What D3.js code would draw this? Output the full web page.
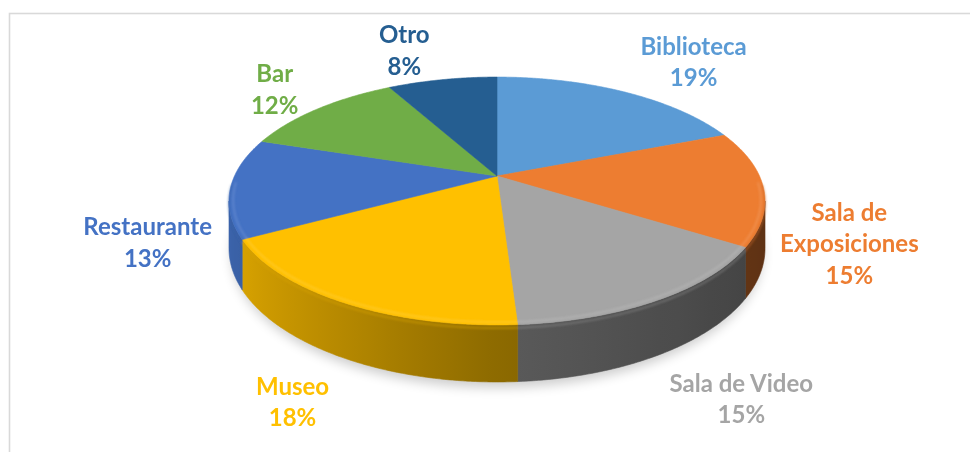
<!DOCTYPE html>
<html>
<head>
<meta charset="utf-8">
<script src="https://cdn.jsdelivr.net/npm/d3@7"></script>
<style>
  html, body { margin: 0; padding: 0; background: #fff; }
  svg { display: block; }
</style>
</head>
<body>
<svg id="chart" width="970" height="452"></svg>
<script>
// ---- data ----
const categories = ["Biblioteca", "Sala de Exposiciones", "Sala de Video", "Museo", "Restaurante", "Bar", "Otro"];
const shares = [19, 15, 15, 18, 13, 12, 8];
const colors = ["#5B9BD5", "#ED7D31", "#A5A5A5", "#FFC000", "#4472C4", "#70AD47", "#255E91"];
// how each category name wraps inside its label
const labelLines = [["Biblioteca"], ["Sala de", "Exposiciones"], ["Sala de Video"], ["Museo"], ["Restaurante"], ["Bar"], ["Otro"]];

// ---- layout ----
const cx = 497, cy = 176;          // pie centre on screen
const R = 262.5;                    // pie radius
const tilt = Math.asin(0.453);      // viewing tilt
const focal = 1160;                 // perspective distance
const thick = 45.5;                 // pie thickness
const labelRadius = 1.3;            // label distance, as a share of R
const fontSize = 24, lineGap = 31.5;
// small hand adjustments of each label block (dx, dy), keyed by category
const labelNudge = {
  "Biblioteca": [39, -9], "Sala de Exposiciones": [4, 6], "Sala de Video": [20, -8],
  "Museo": [9, -9], "Restaurante": [-1, 5], "Bar": [3, -2], "Otro": [-25, -6]
};

const svg = d3.select("#chart");
const defs = svg.append("defs");

// perspective projection of a point at angle theta (clockwise from 12 o'clock),
// radius r, and depth h below the top face
function proj(theta, r, h) {
  const X = r * Math.sin(theta), Y = r * Math.cos(theta);
  const s = focal / (focal + Y * Math.cos(tilt));
  return [cx + X * s, cy + (-Y * Math.sin(tilt) + h) * s];
}
function arcPts(a0, a1, r, h) {
  const n = Math.max(2, Math.ceil(Math.abs(a1 - a0) / 0.008));
  return d3.range(n + 1).map(i => proj(a0 + (a1 - a0) * i / n, r, h));
}
const closed = d3.line().curve(d3.curveLinearClosed);
const open = d3.line();

const slices = d3.pie().sort(null).value(d => d)(shares);

// chart area frame
svg.append("rect")
  .attr("x", 9.5).attr("y", 13.5).attr("width", 1000).attr("height", 500)
  .attr("fill", "none").attr("stroke", "#d9d9d9").attr("stroke-width", 1.6);

// filters
const blurShadow = defs.append("filter").attr("id", "shadowBlur")
  .attr("x", "-20%").attr("y", "-20%").attr("width", "140%").attr("height", "140%");
blurShadow.append("feGaussianBlur").attr("stdDeviation", 6);
const blurRim = defs.append("filter").attr("id", "rimBlur")
  .attr("x", "-10%").attr("y", "-10%").attr("width", "120%").attr("height", "120%");
blurRim.append("feGaussianBlur").attr("stdDeviation", 1.3);

// soft shadow under the pie
svg.append("path")
  .attr("d", closed(arcPts(0, 2 * Math.PI, R * 0.99, thick + 6)))
  .attr("fill", "#000").attr("opacity", 0.2)
  .attr("filter", "url(#shadowBlur)");

// side walls (only the part facing the viewer), lit from the left
const k = R * Math.cos(tilt) / focal;
const sil0 = Math.acos(-k), sil1 = 2 * Math.PI - sil0;
function shade(theta) {
  const s = Math.sin(theta);
  return 0.55 - (s > 0 ? 0.16 : 0.33) * s;
}
function darker(c, f) {
  const r = d3.rgb(c);
  return d3.rgb(r.r * f, r.g * f, r.b * f).formatHex();
}

const sideG = svg.append("g");
slices.forEach((sl, i) => {
  const a = Math.max(sl.startAngle, sil0), b = Math.min(sl.endAngle, sil1);
  if (a >= b) return;
  const top = arcPts(a, b, R, 0);
  const bot = arcPts(b, a, R, thick);
  const xs = top.map(p => p[0]);
  const x0 = d3.min(xs), x1 = d3.max(xs);
  const gid = "side" + i;
  const grad = defs.append("linearGradient").attr("id", gid)
    .attr("gradientUnits", "userSpaceOnUse")
    .attr("x1", x0).attr("y1", 0).attr("x2", x1).attr("y2", 0);
  const stops = d3.range(13).map(j => {
    const t = a + (b - a) * j / 12;
    const px = proj(t, R, 0)[0];
    return { off: x1 > x0 ? (px - x0) / (x1 - x0) : 0, col: darker(colors[i], shade(t)) };
  }).sort((p, q) => p.off - q.off);
  stops.forEach(s => grad.append("stop").attr("offset", s.off).attr("stop-color", s.col));
  sideG.append("path")
    .attr("d", closed(top.concat(bot)))
    .attr("fill", `url(#${gid})`)
    .attr("stroke", `url(#${gid})`).attr("stroke-width", 0.6);
});

// top faces
const topG = svg.append("g");
slices.forEach((sl, i) => {
  const pts = [proj(0, 0, 0)].concat(arcPts(sl.startAngle, sl.endAngle, R, 0));
  topG.append("path")
    .attr("d", closed(pts))
    .attr("fill", colors[i])
    .attr("stroke", colors[i]).attr("stroke-width", 0.6);
});

// bevel highlight along the front rim
const rimG = svg.append("g").attr("filter", "url(#rimBlur)");
slices.forEach((sl, i) => {
  const a = Math.max(sl.startAngle, sil0 - 0.15), b = Math.min(sl.endAngle, sil1 + 0.15);
  if (a >= b) return;
  rimG.append("path")
    .attr("d", open(arcPts(a, b, R * 0.985, 0)))
    .attr("fill", "none")
    .attr("stroke", d3.interpolateRgb(colors[i], "#fff")(0.2))
    .attr("stroke-width", 2.2).attr("opacity", 0.6);
  rimG.append("path")
    .attr("d", open(arcPts(a, b, R, 2.5)))
    .attr("fill", "none")
    .attr("stroke", darker(colors[i], 0.85))
    .attr("stroke-width", 2).attr("opacity", 0.5);
});

// data labels
const labelG = svg.append("g")
  .attr("font-family", "Lato, 'Open Sans', sans-serif")
  .attr("font-weight", "bold")
  .attr("font-size", fontSize)
  .attr("text-anchor", "middle");
slices.forEach((sl, i) => {
  const mid = (sl.startAngle + sl.endAngle) / 2;
  const base = proj(mid, R * labelRadius, Math.cos(mid) < 0 ? thick : 0);
  const nd = labelNudge[categories[i]];
  const bx = base[0] + nd[0], by = base[1] + nd[1];
  const lines = labelLines[i].concat([d3.format(".0%")(sl.value / d3.sum(shares))]);
  const text = labelG.append("text").attr("fill", colors[i]);
  lines.forEach((ln, j) => {
    text.append("tspan")
      .attr("x", bx)
      .attr("y", by + (j - (lines.length - 1) / 2) * lineGap + fontSize * 0.36)
      .text(ln);
  });
});
</script>
</body>
</html>
